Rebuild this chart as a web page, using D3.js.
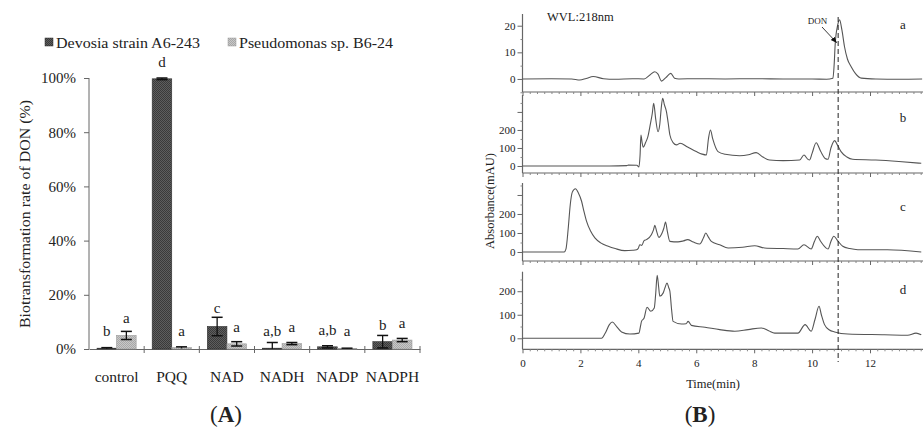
<!DOCTYPE html>
<html><head><meta charset="utf-8">
<script src="https://cdn.jsdelivr.net/npm/d3@7"></script>
<style>
body{margin:0;background:#fff}
svg{display:block}
text{font-family:"Liberation Serif","Times New Roman",serif;fill:#222}
</style>
</head><body><svg id="c" width="923" height="432"></svg>
<script>
// ---------- Panel A data ----------
const categories = ["control","PQQ","NAD","NADH","NADP","NADPH"];
const seriesNames = ["Devosia strain A6-243","Pseudomonas sp. B6-24"];
const devosiaValues = [0.3, 99.7, 8.3, 0.3, 0.8, 2.7];
const devosiaErrors = [0.2, 0.3, 3.4, 2.1, 0.4, 2.3];
const pseudoValues  = [5.0, 0.5, 1.9, 2.0, 0.2, 3.3];
const pseudoErrors  = [1.5, 0.3, 0.8, 0.4, 0.1, 0.6];
const devosiaLetters = ["b","d","c","a,b","a,b","b"];
const pseudoLetters  = ["a","a","a","a","a","a"];
const yTicksA = [0,20,40,60,80,100];

// ---------- Panel B data (time in min, absorbance in mAU) ----------
const traceA = [[0,0],[1.0,0.1],[1.7,0],[1.98,-0.4],[2.2,0.2],[2.44,0.9],[2.8,0.1],[3.2,-0.1],[3.8,0.1],[4.2,0],[4.4,1.5],[4.57,2.7],[4.68,1.8],[4.8,-0.8],[4.95,0.5],[5.12,2.1],[5.25,0.3],[5.4,0],[6,0.1],[7,0],[8,0.1],[9,0],[10,0],[10.5,-0.1],[10.72,0.3],[10.76,5],[10.8,13.4],[10.88,20],[10.95,22.2],[11.03,18.4],[11.12,12.1],[11.22,7.5],[11.35,4.6],[11.5,2],[11.7,0.3],[12.2,0],[13,-0.1],[13.8,0]];
const traceB = [[0,0],[3.0,0],[3.6,2],[3.65,5],[3.95,4],[4.02,-5],[4.06,60],[4.09,172],[4.13,130],[4.17,104],[4.25,130],[4.33,163],[4.42,237],[4.48,290],[4.53,348],[4.6,260],[4.68,190],[4.74,230],[4.79,320],[4.84,376],[4.9,340],[4.97,302],[5.03,240],[5.09,172],[5.2,130],[5.32,117],[5.44,126],[5.7,105],[6.0,80],[6.2,66],[6.35,61],[6.42,150],[6.49,200],[6.57,150],[6.75,80],[7.0,65],[7.5,57],[7.8,62],[8.07,74],[8.3,50],[8.53,33],[9.0,30],[9.57,33],[9.72,61],[9.85,38],[9.91,33],[10.0,70],[10.14,129],[10.3,80],[10.45,42],[10.55,37],[10.65,100],[10.78,141],[10.88,115],[11.0,80],[11.2,50],[11.4,37],[12.2,33],[13.0,25],[13.77,15]];
const traceC = [[0,0],[1.44,0],[1.5,15],[1.58,126],[1.65,250],[1.72,315],[1.83,333],[1.93,310],[2.04,267],[2.12,215],[2.21,162],[2.35,110],[2.5,74],[2.7,48],[2.96,30],[3.2,18],[3.53,7],[3.8,9],[3.94,12],[4.0,20],[4.05,38],[4.12,35],[4.2,60],[4.28,65],[4.45,91],[4.52,115],[4.57,140],[4.63,110],[4.71,77],[4.82,100],[4.88,125],[4.94,158],[5.0,110],[5.09,56],[5.37,53],[5.55,58],[5.70,65],[5.9,52],[6.12,42],[6.25,75],[6.33,100],[6.42,78],[6.52,56],[6.81,38],[7.1,21],[7.6,25],[8.02,33],[8.36,21],[9.0,18],[9.51,16],[9.72,38],[9.97,16],[10.08,55],[10.18,83],[10.3,55],[10.55,16],[10.65,55],[10.75,83],[10.88,60],[11.06,30],[11.3,18],[11.58,12],[12.6,12],[13.77,0]];
const traceD = [[0,0],[2.73,0],[2.85,20],[3.0,58],[3.10,69],[3.25,50],[3.42,27],[3.71,18],[4.02,22],[4.08,55],[4.11,72],[4.2,86],[4.3,132],[4.43,115],[4.55,129],[4.6,190],[4.65,268],[4.7,220],[4.74,179],[4.86,193],[4.92,215],[4.99,235],[5.05,215],[5.09,200],[5.15,120],[5.2,72],[5.49,61],[5.65,62],[5.72,72],[5.83,55],[6.3,47],[6.81,37],[7.33,30],[7.79,37],[8.25,44],[8.5,32],[8.71,22],[9.51,22],[9.76,58],[9.97,30],[10.1,80],[10.24,136],[10.32,100],[10.43,58],[10.6,35],[10.78,27],[11.23,18],[12.5,15],[13.3,13],[13.59,22],[13.77,15]];
const timeTicks = [0,2,4,6,8,10,12];
const donTime = 10.9;
const traceLetters = ["a","b","c","d"];

const svg = d3.select("#c");
const defs = svg.append("defs");
function pat(id, c1, c2){
  const p = defs.append("pattern").attr("id",id).attr("width",2).attr("height",2).attr("patternUnits","userSpaceOnUse");
  p.append("rect").attr("width",2).attr("height",2).attr("fill",c1);
  p.append("rect").attr("width",1).attr("height",1).attr("fill",c2);
  p.append("rect").attr("x",1).attr("y",1).attr("width",1).attr("height",1).attr("fill",c2);
}
pat("pDark","#5e5e5e","#3a3a3a");
pat("pLight","#c8c8c8","#a8a8a8");
const fills = ["url(#pDark)","url(#pLight)"];
const strokes = ["#2e2e2e","#9a9a9a"];

// ================= Panel A =================
const x0 = d3.scaleBand().domain(categories).range([89,420]).padding(0);
const x1 = d3.scaleBand().domain([0,1]).range([0,x0.bandwidth()]).paddingOuter(0.41).paddingInner(0);
const yA = d3.scaleLinear().domain([0,100]).range([349,78]);
const gA = svg.append("g");

// y axis
const yAxisA = d3.axisLeft(yA).tickValues(yTicksA).tickSize(5).tickFormat(d=>d+"%");
const ya = gA.append("g").attr("transform","translate(89,0)").call(yAxisA);
ya.select(".domain").attr("stroke","#666").attr("d","M0,349V78");
ya.selectAll(".tick line").attr("stroke","#666");
ya.selectAll(".tick text").attr("x",-13).style("font-size","15px").style("font-family","'Liberation Serif',serif").attr("fill","#222");

// x axis
const xa = gA.append("g").attr("transform","translate(0,349)").call(d3.axisBottom(x0).tickSize(0));
xa.select(".domain").attr("stroke","#666");
xa.selectAll(".tick text").attr("y",22).style("font-size","15.5px").style("font-family","'Liberation Serif',serif").attr("fill","#222");
gA.selectAll(".sep").data(categories.slice(1)).join("line")
  .attr("x1",d=>x0(d)).attr("x2",d=>x0(d)).attr("y1",346).attr("y2",353).attr("stroke","#666");
gA.append("line").attr("x1",420).attr("x2",420).attr("y1",346).attr("y2",353).attr("stroke","#666");

// bars
const seriesVals = [devosiaValues, pseudoValues];
const seriesErr = [devosiaErrors, pseudoErrors];
const seriesLet = [devosiaLetters, pseudoLetters];
const rows = [];
categories.forEach((c,i)=>[0,1].forEach(s=>rows.push({c, s, v:seriesVals[s][i], e:seriesErr[s][i], l:seriesLet[s][i]})));
gA.selectAll(".bar").data(rows).join("rect")
  .attr("x",d=>x0(d.c)+x1(d.s)).attr("width",x1.bandwidth())
  .attr("y",d=>yA(d.v)).attr("height",d=>yA(0)-yA(d.v))
  .attr("fill",d=>fills[d.s]).attr("stroke",d=>strokes[d.s]).attr("stroke-width",0.6);
// error bars
const eb = gA.selectAll(".eb").data(rows).join("g");
eb.each(function(d){
  const g = d3.select(this);
  const cx = x0(d.c)+x1(d.s)+x1.bandwidth()/2;
  const lo = Math.max(0,d.v-d.e), hi = d.v+d.e;
  g.append("line").attr("x1",cx).attr("x2",cx).attr("y1",yA(lo)).attr("y2",yA(hi)).attr("stroke","#111").attr("stroke-width",1.3);
  g.append("line").attr("x1",cx-5.5).attr("x2",cx+5.5).attr("y1",yA(hi)).attr("y2",yA(hi)).attr("stroke","#111").attr("stroke-width",1.5);
  if(d.v-d.e>0.3) g.append("line").attr("x1",cx-5.5).attr("x2",cx+5.5).attr("y1",yA(lo)).attr("y2",yA(lo)).attr("stroke","#111").attr("stroke-width",1.5);
});
// letters
gA.selectAll(".let").data(rows).join("text")
  .attr("x",d=>x0(d.c)+x1(d.s)+x1.bandwidth()/2)
  .attr("y",d=>Math.min(yA(d.v)-12, yA(d.v+d.e)-4))
  .attr("text-anchor","middle").style("font-size","15px").text(d=>d.l);

// y title
gA.append("text").attr("transform","translate(30,214) rotate(-90)").attr("text-anchor","middle")
  .style("font-size","15px").attr("textLength",228).attr("lengthAdjust","spacingAndGlyphs")
  .text("Biotransformation rate of DON (%)");

// legend
const legX = [45,228], legW=[144,154];
seriesNames.forEach((n,i)=>{
  gA.append("rect").attr("x",legX[i]).attr("y",38).attr("width",8).attr("height",8).attr("fill",fills[i]).attr("stroke",strokes[i]).attr("stroke-width",0.5);
  gA.append("text").attr("x",legX[i]+11).attr("y",47.5).style("font-size","14.5px")
    .attr("textLength",legW[i]).attr("lengthAdjust","spacingAndGlyphs").text(n);
});

// panel labels
function panelLabel(x, letter){
  const t = svg.append("text").attr("x",x).attr("y",422).attr("text-anchor","middle").style("font-size","23px").attr("fill","#000");
  t.append("tspan").text("(");
  t.append("tspan").style("font-weight","bold").text(letter);
  t.append("tspan").text(")");
}
panelLabel(226,"A");
panelLabel(700,"B");

// ================= Panel B =================
const xB = d3.scaleLinear().domain([0,12]).range([522.5,870]);
const xMax = 13.8;
const panels = [
  {data:traceA, domain:[-4.9,24.4], top:14,   bottom:92,    major:[0,10,20],      minor:d3.range(-5,25,5)},
  {data:traceB, domain:[-38.9,394], top:95,   bottom:173,   major:[0,100,200,300],minor:d3.range(0,400,50)},
  {data:traceC, domain:[-47.4,363], top:183,  bottom:261,   major:[0,100,200,300],minor:d3.range(0,363,50)},
  {data:traceD, domain:[-46.8,283], top:271.7,bottom:349.3, major:[0,100,200],    minor:d3.range(0,283,50)}
];
const labeled = [[0,10,20],[0,100,200],[0,100,200],[0,100,200]];
const letterY = [29,122,211,294];
const gB = svg.append("g");
const line = d3.line().curve(d3.curveMonotoneX);
panels.forEach((p,i)=>{
  const y = d3.scaleLinear().domain(p.domain).range([p.bottom,p.top]);
  // left axis
  gB.append("line").attr("x1",522.5).attr("x2",522.5).attr("y1",p.top).attr("y2",p.bottom).attr("stroke","#666").attr("stroke-width",1.2);
  const yAx = gB.append("g").attr("transform","translate(522.5,0)")
    .call(d3.axisLeft(y).tickValues(p.minor.filter(v=>p.major.indexOf(v)<0)).tickSize(2).tickFormat(""));
  yAx.select(".domain").remove(); yAx.selectAll("line").attr("stroke","#888");
  const yAx2 = gB.append("g").attr("transform","translate(522.5,0)")
    .call(d3.axisLeft(y).tickValues(p.major).tickSize(5).tickPadding(2).tickFormat(d=>labeled[i].indexOf(d)>=0?d:""));
  yAx2.select(".domain").remove(); yAx2.selectAll("line").attr("stroke","#666");
  yAx2.selectAll("text").style("font-size","11px").style("font-family","'Liberation Serif',serif").attr("fill","#333");
  // bottom axis
  gB.append("line").attr("x1",522.5).attr("x2",923).attr("y1",p.bottom).attr("y2",p.bottom).attr("stroke","#666").attr("stroke-width",1.2);
  const xm = gB.append("g").attr("transform",`translate(0,${p.bottom})`)
    .call(d3.axisBottom(xB).tickValues(d3.range(0,xMax,0.25).filter(v=>v%2!==0)).tickSize(2).tickFormat(""));
  xm.select(".domain").remove(); xm.selectAll("line").attr("stroke","#888");
  const xM = gB.append("g").attr("transform",`translate(0,${p.bottom})`)
    .call(d3.axisBottom(xB).tickValues(timeTicks).tickSize(4).tickPadding(6).tickFormat(i===3?d3.format("d"):""));
  xM.select(".domain").remove(); xM.selectAll("line").attr("stroke","#666");
  xM.selectAll("text").style("font-size","11px").style("font-family","'Liberation Serif',serif").attr("fill","#333");
  // trace
  line.x(d=>xB(d[0])).y(d=>y(d[1]));
  gB.append("path").datum(p.data).attr("d",line).attr("fill","none").attr("stroke","#555").attr("stroke-width",1.1);
  // letter
  gB.append("text").attr("x",903).attr("y",letterY[i]).attr("text-anchor","middle").style("font-size","13px").text(traceLetters[i]);
});

// dashed DON line
gB.append("line").attr("x1",xB(donTime)).attr("x2",xB(donTime)).attr("y1",17).attr("y2",362)
  .attr("stroke","#222").attr("stroke-width",1).attr("stroke-dasharray","5,3");
// DON arrow
defs.append("marker").attr("id","arr").attr("viewBox","0 0 10 10").attr("refX",9).attr("refY",5)
  .attr("markerWidth",7).attr("markerHeight",7).attr("orient","auto")
  .append("path").attr("d","M0,1L10,5L0,9Z").attr("fill","#111");
gB.append("line").attr("x1",822).attr("y1",27).attr("x2",836.5).attr("y2",42.5).attr("stroke","#222").attr("stroke-width",0.9).attr("marker-end","url(#arr)");
gB.append("text").attr("x",817.5).attr("y",24).attr("text-anchor","middle").style("font-size","9px").text("DON");

// WVL
gB.append("text").attr("x",547).attr("y",21).style("font-size","12.5px").text("WVL:218nm");
// axis titles
gB.append("text").attr("transform","translate(494,201) rotate(-90)").attr("text-anchor","middle").style("font-size","12.5px").text("Absorbance(mAU)");
gB.append("text").attr("x",713).attr("y",388).attr("text-anchor","middle").style("font-size","12.5px").text("Time(min)");
</script></body></html>
